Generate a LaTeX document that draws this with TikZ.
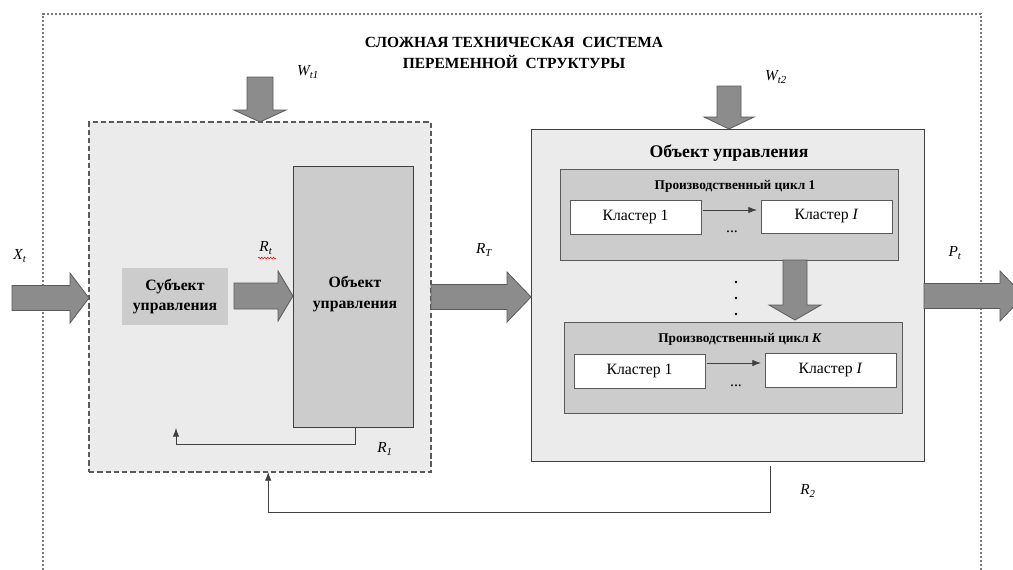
\documentclass[tikz,border=0pt]{standalone}
\usepackage{fontspec}
\setmainfont{Liberation Serif}
\usetikzlibrary{arrows.meta,fit,decorations.pathmorphing,calc}
\definecolor{lightbg}{HTML}{EBEBEB}
\definecolor{midbg}{HTML}{CCCCCC}
\definecolor{arrfill}{HTML}{8C8C8C}
\definecolor{arrline}{HTML}{5A5A5A}
\definecolor{edgec}{HTML}{404040}
\definecolor{dotc}{HTML}{7A7A7A}
\newcommand\myrarrow[6]{\draw[blockarrow] (#1,{#4-#5}) -- (#2,{#4-#5}) -- (#2,{#4-#6}) -- (#3,#4) -- (#2,{#4+#6}) -- (#2,{#4+#5}) -- (#1,{#4+#5}) -- cycle;}
\newcommand\mydarrow[6]{\draw[blockarrow] ({#4-#5},#1) -- ({#4-#5},#2) -- ({#4-#6},#2) -- (#4,#3) -- ({#4+#6},#2) -- ({#4+#5},#2) -- ({#4+#5},#1) -- cycle;}
\begin{document}
\begin{tikzpicture}[x=0.75pt,y=-0.75pt,
  area/.style={inner sep=0pt, outer sep=0pt},
  sysframe/.style={area, draw=dotc, line width=0.8pt, dash pattern=on 1.6pt off 1.4pt},
  subframe/.style={area, draw=arrline, fill=lightbg, line width=0.8pt, dash pattern=on 4pt off 2.2pt},
  plainbox/.style={area, draw=edgec, line width=0.7pt},
  blockarrow/.style={fill=arrfill, draw=arrline, line width=0.6pt, line join=miter},
  fb/.style={draw=edgec, line width=0.6pt, -{Latex[length=6.5pt,width=4.8pt]}},
  lbl/.style={font=\fontsize{11.5}{13}\selectfont\itshape, inner sep=0pt},
  btxt/.style={font=\fontsize{11.8}{15.5}\selectfont\bfseries, align=center, inner sep=0pt},
  ttl/.style={font=\fontsize{11.6}{15.5}\selectfont\bfseries, align=center, inner sep=0pt},
  ctitle/.style={font=\fontsize{10}{11}\selectfont\bfseries, inner sep=0pt},
  ctxt/.style={font=\fontsize{11.8}{13}\selectfont, inner sep=0pt}
]
\useasboundingbox (0,0) rectangle (1013,569);
\fill[white] (0,0) rectangle (1013,569);

% outer system frame (bottom lies below the picture)
\node[sysframe, fit={(43,14) (981,620)}] (sys) {};
\node[ttl] (title) at (514,53) {СЛОЖНАЯ ТЕХНИЧЕСКАЯ \ СИСТЕМА\\ПЕРЕМЕННОЙ \ СТРУКТУРЫ};

% left subsystem
\node[subframe, fit={(89,122) (431,472)}] (left) {};
\node[area, fill=midbg, fit={(122,268) (228,325)}] (subj) {};
\node[btxt] at (subj) {Субъект\\управления};
\node[plainbox, fill=midbg, fit={(293,166) (413,427)}] (obj) {};
\node[btxt] at (355,294) {Объект\\управления};

% right object
\node[plainbox, fill=lightbg, fit={(531,129) (924,461)}] (right) {};
\node[font=\fontsize{13.3}{15}\selectfont\bfseries, inner sep=0pt] (rtitle) at (729,153) {Объект управления};

\node[plainbox, draw=arrline, fill=midbg, fit={(560,169) (898,260)}] (cyc1) {};
\node[ctitle] at (735,186) {Производственный цикл 1};
\node[plainbox, draw=arrline, fill=white, fit={(570,200) (701,234)}] (c11) {};
\node[ctxt] at (c11) {Кластер 1};
\node[plainbox, draw=arrline, fill=white, fit={(761,200) (892,233)}] (c1i) {};
\node[ctxt] at (c1i) {Кластер \textit{I}};
\coordinate (row1) at (0,210);
\draw[fb, shorten <=1.5pt, shorten >=3pt] (c11.east |- row1) -- (c1i.west |- row1);
\node[ctxt] at (732,232) {...};

\node[plainbox, draw=arrline, fill=midbg, fit={(564,322) (902,413)}] (cyck) {};
\node[ctitle] at (740,339) {Производственный цикл \textit{K}};
\node[plainbox, draw=arrline, fill=white, fit={(574,354) (705,388)}] (ck1) {};
\node[ctxt] at (ck1) {Кластер 1};
\node[plainbox, draw=arrline, fill=white, fit={(765,353) (896,387)}] (cki) {};
\node[ctxt] at (cki) {Кластер \textit{I}};
\coordinate (rowk) at (0,363);
\draw[fb, shorten <=1.5pt, shorten >=3pt] (ck1.east |- rowk) -- (cki.west |- rowk);
\node[ctxt] at (736,386) {...};

% vertical dots
\foreach \yy in {282,298,314} \fill (736,\yy) circle (1.3);

% block arrows
\myrarrow{12}{70}{89}{298}{12.5}{25}
\myrarrow{234}{278}{293}{296}{13}{25}
\myrarrow{431}{507}{531}{297}{12.5}{25}
\myrarrow{924}{1000}{1024}{296}{12.5}{25}
\mydarrow{77}{110}{122}{260}{13}{26}
\mydarrow{86}{117}{129}{729}{12}{25}
\mydarrow{260}{305}{320}{795}{12}{26}

% labels
\node[lbl] (lx) at (20,256) {X\textsubscript{t}};
\node[lbl] (lrt) at (266,248) {R\textsubscript{t}};
\draw[red, line width=0.4pt, decorate, decoration={snake, amplitude=0.6pt, segment length=2.2pt}] (258,258) -- (276,258);
\node[lbl] (lrT) at (484,250) {R\textsubscript{T}};
\node[lbl] (lpt) at (955,253) {P\textsubscript{t}};
\node[lbl] (lw1) at (308,72) {W\textsubscript{t1}};
\node[lbl] (lw2) at (776,77) {W\textsubscript{t2}};
\node[lbl] (lr1) at (385,449) {R\textsubscript{1}};
\node[lbl] (lr2) at (808,491) {R\textsubscript{2}};

% feedback loops
\coordinate (r1turn) at (355,444);
\coordinate (r1end) at (176,428);
\draw[fb] (obj.south -| r1turn) -- (r1turn) -| (r1end);
\coordinate (r2start) at (770,466);
\coordinate (r2turn) at (770,512);
\draw[fb] (r2start) -- (r2turn) -| ($(left.south west)!0.524!(left.south east)$);
\end{tikzpicture}
\end{document}
